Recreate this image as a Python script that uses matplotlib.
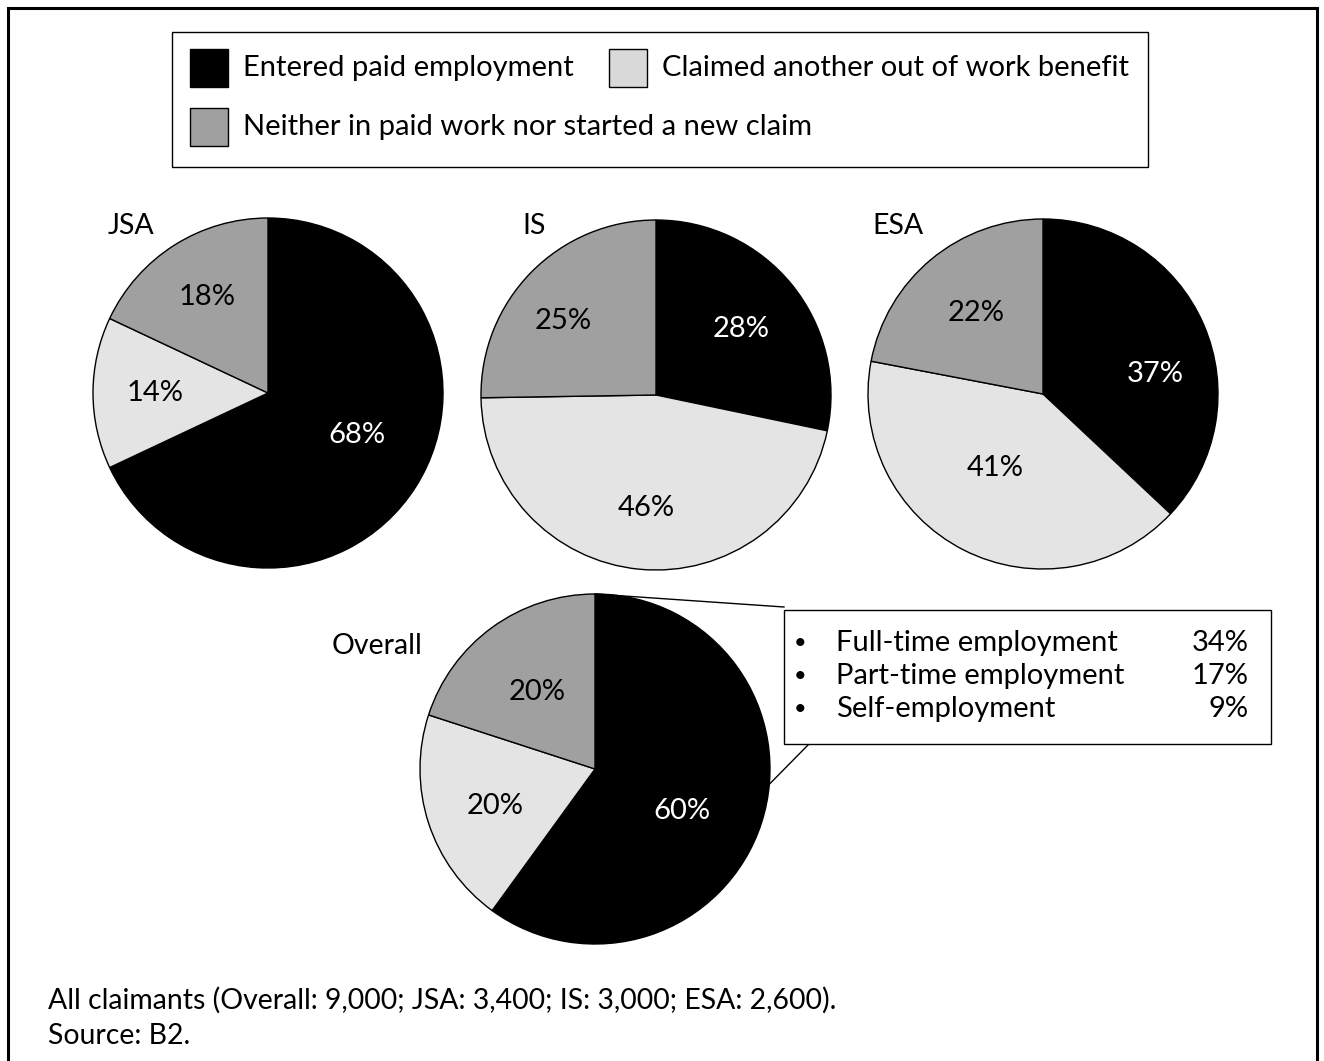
import matplotlib.pyplot as plt
from matplotlib.patches import Rectangle
import numpy as np

plt.rcParams['font.family'] = ['Lato', 'DejaVu Sans']

# outcome shares per benefit (entered work, claimed other benefit, neither)
outcomes = ["Entered paid employment", "Claimed another out of work benefit",
            "Neither in paid work nor started a new claim"]
groups = ["JSA", "IS", "ESA", "Overall"]
jsa = [68, 14, 18]
is_ = [28, 46, 25]
esa = [37, 41, 22]
overall = [60, 20, 20]

# breakdown of the overall "entered paid employment" slice
emp_types = ["Full-time employment", "Part-time employment", "Self-employment"]
emp_shares = [34, 17, 9]

note = "All claimants (Overall: 9,000; JSA: 3,400; IS: 3,000; ESA: 2,600)."
source = "Source: B2."

colors = ["#000000", "#e4e4e4", "#a0a0a0"]
swatch_colors = ["#000000", "#d9d9d9", "#a0a0a0"]

W, H = 1324, 1061
FS = 21


def Y(y):
    # work in pixel rows counted from the top
    return H - y


fig = plt.figure(figsize=(W / 100, H / 100), dpi=100)
ax = fig.add_axes([0, 0, 1, 1])

# outer frame (open at the bottom)
ax.add_patch(Rectangle((8, Y(1100)), 1309, 1092, fill=False, ec='black', lw=2.2, clip_on=False))

# legend box
ax.add_patch(Rectangle((172, Y(167)), 976, 135, fill=False, ec='black', lw=1.0))
legend_slots = [(190, 68), (609, 68), (190, 127)]
for (sx, sy), lab, c in zip(legend_slots, outcomes, swatch_colors):
    ax.add_patch(Rectangle((sx, Y(sy) - 19), 38, 38, fc=c, ec='black', lw=1.0))
    ax.text(sx + 53, Y(sy), lab, fontsize=FS, va='center', ha='left')

# pies: centre, title position, label nudges (px)
pie_layout = [((268, 393), (108, 226), [(0, 14), (-8, 0), (-5, 7)]),
              ((656, 395), (522, 226), [(4, 0), (0, -8), (-18, 0)]),
              ((1043, 394), (872, 226), [(16, -22), (0, 20), (0, 0)]),
              ((595, 769), (332, 646), [(-13, -10), (0, -5), (4, -8)])]
radius = 175

for data, name, ((cx, cy), (tx, ty), nudges) in zip([jsa, is_, esa, overall], groups, pie_layout):
    wedges, texts, autotexts = ax.pie(
        data, colors=colors, startangle=90, counterclock=False,
        center=(cx, Y(cy)), radius=radius, frame=True,
        autopct='%.0f%%', pctdistance=0.6,
        wedgeprops=dict(edgecolor='black', linewidth=1.0),
        textprops=dict(fontsize=FS))
    autotexts[0].set_color('white')
    for t, (dx, dy) in zip(autotexts, nudges):
        x, y = t.get_position()
        t.set_position((x + dx, y + dy))
    ax.text(tx, Y(ty), name, fontsize=FS - 0.5, ha='left', va='center')

ax.set_xlim(0, W)
ax.set_ylim(0, H)
ax.set_aspect('equal')
ax.axis('off')

# callout for the overall employment slice
bx0, by0, bx1, by1 = 784, 610, 1271, 744
ax.add_patch(Rectangle((bx0, Y(by1)), bx1 - bx0, by1 - by0, fc='white', ec='black', lw=1.0, zorder=3))
ocx, ocy = pie_layout[3][0]
ax.plot([ocx, bx0], [Y(ocy) + radius, Y(607)], color='black', lw=1.0)
edge_ang = np.deg2rad(-5)
ax.plot([809, ocx + radius * np.cos(edge_ang)], [Y(by1), Y(ocy) + radius * np.sin(edge_ang)],
        color='black', lw=1.0)
for i, (lab, val) in enumerate(zip(emp_types, emp_shares)):
    ry = Y(643 + 33 * i)
    ax.text(800, ry, "•", fontsize=FS * 0.75, ha='center', va='center', zorder=4)
    ax.text(836, ry, lab, fontsize=FS, ha='left', va='center', zorder=4)
    ax.text(1249, ry, f"{val}%", fontsize=FS, ha='right', va='center', zorder=4)

# footnote
ax.text(48, Y(1000), note, fontsize=FS - 0.6, ha='left', va='center')
ax.text(48, Y(1036), source, fontsize=FS - 0.6, ha='left', va='center')

fig.savefig("out.png", dpi=100)
